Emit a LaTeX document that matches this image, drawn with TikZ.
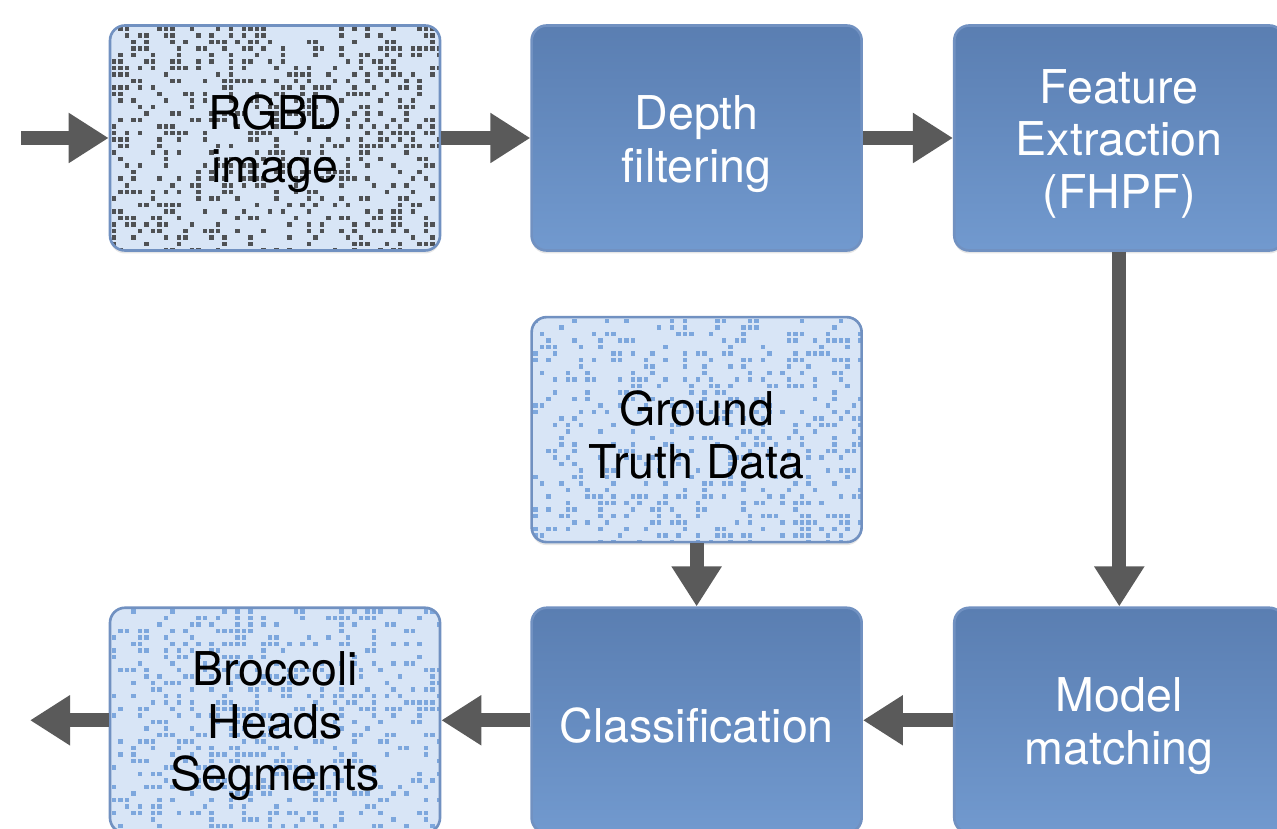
\documentclass[tikz,border=0pt]{standalone}
\usepackage{fontspec}
\setmainfont{TeX Gyre Heros}
\usetikzlibrary{positioning,arrows.meta,shadows}

\definecolor{boxedge}{HTML}{7191C1}
\definecolor{shadehl}{HTML}{B9CCE8}
\definecolor{shadetop}{HTML}{5477AA}
\definecolor{shadebot}{HTML}{7DA7DD}
\definecolor{palebox}{HTML}{D8E5F6}
\definecolor{flowgray}{HTML}{5A5A5A}
\pgfdeclareverticalshading{boxshade}{100bp}{color(0bp)=(shadebot); color(88bp)=(shadetop); color(95bp)=(shadetop); color(100bp)=(shadehl)}

% random speckles inside a node (used as path picture)
\newcommand\speckledots[2]{%
  \foreach \i in {0,...,51}{
    \foreach \j in {0,...,35}{
      \pgfmathparse{rnd}
      \ifdim\pgfmathresult pt<#2pt
        \fill[#1, sharp corners] ([shift={(\i*0.13+0.03,-\j*0.13-0.03)}]path picture bounding box.north west) rectangle +(0.09,-0.09);
      \fi
    }
  }}
\newcommand\ts{\rule{0pt}{26pt}}

\begin{document}
\begin{tikzpicture}[
    box/.style={rounded corners=0.3cm, minimum width=6.6cm, minimum height=4.5cm,
      draw=boxedge, line width=1.5pt, align=center,
      font=\fontsize{26.5}{30}\selectfont,
      drop shadow={opacity=0.2, shadow xshift=0cm, shadow yshift=-0.06cm}},
    flowbox/.style={box, shading=boxshade, text=white},
    plainbox/.style={box, fill=palebox, text=black},
    darkdots/.style={path picture={\speckledots{black!78, opacity=0.85}{0.34}}},
    bluedots/.style={path picture={\speckledots{shadebot}{0.28}}},
    flow/.style={draw=flowgray, line width=0.28cm,
      -{Triangle[length=0.8cm, width=0.95cm]}}
  ]
  \pgfmathsetseed{17}
  \useasboundingbox (0,0) rectangle (25.54,-16.58);

  \node[plainbox, darkdots] (rgbd) at (5.5,-2.76) {\ts RGBD\\image};
  \node[flowbox, right=1.78cm of rgbd] (depth) {\ts Depth\\filtering};
  \node[flowbox, right=1.8cm of depth] (feature) {\ts Feature\\Extraction\\(FHPF)};
  \node[plainbox, bluedots, below=1.28cm of depth] (truth) {\ts Ground\\Truth Data};
  \node[flowbox, below=1.26cm of truth] (classif) {\ts Classification};
  \node[flowbox, right=1.8cm of classif] (model) {\ts Model\\matching};
  \node[plainbox, bluedots, left=1.78cm of classif] (broccoli) {\ts Broccoli\\Heads\\Segments};

  \coordinate (in) at (0.56,-2.9);
  \coordinate (out) at (0.6,-14.4);

  \draw[flow] (in) |- (rgbd.west);
  \draw[flow] (rgbd) -- (depth);
  \draw[flow] (depth) -- (feature);
  \draw[flow] (feature) -- (model);
  \draw[flow] (truth) -- (classif);
  \draw[flow] (model) -- (classif);
  \draw[flow] (classif) -- (broccoli);
  \draw[flow] (broccoli.west) -- (broccoli.west -| out);
\end{tikzpicture}
\end{document}
